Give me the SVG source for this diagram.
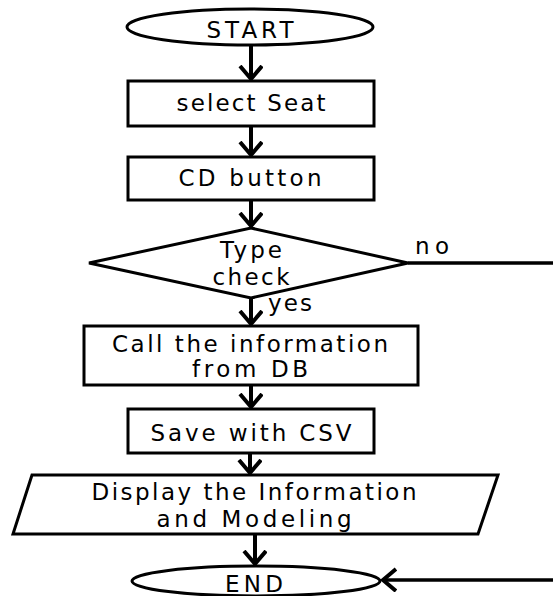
<svg xmlns="http://www.w3.org/2000/svg" width="553" height="596" viewBox="0 0 553 596">
  <style>
    .shape { fill: #ffffff; stroke: #000000; stroke-width: 3; }
    .label { font-family: "DejaVu Sans", "Noto Sans", sans-serif; font-size: 23px; fill: #000000; text-anchor: middle; }
    .tag { font-family: "DejaVu Sans", "Noto Sans", sans-serif; font-size: 23px; fill: #000000; }
    .flow { fill: none; stroke: #000000; stroke-width: 4; }
    .line { fill: none; stroke: #000000; stroke-width: 3.5; }
  </style>
  <defs>
    <marker id="arrow" markerUnits="userSpaceOnUse" markerWidth="30" markerHeight="30" refX="14" refY="12" orient="auto">
      <path d="M1,1 L14,12 L1,23" fill="none" stroke="#000000" stroke-width="4"/>
    </marker>
  </defs>

  <rect width="553" height="596" fill="#ffffff"/>

  <g id="connectors">
    <path class="flow" d="M251,45 V79" marker-end="url(#arrow)"/>
    <path class="flow" d="M251,126 V155" marker-end="url(#arrow)"/>
    <path class="flow" d="M251,200 V226" marker-end="url(#arrow)"/>
    <path class="flow" d="M251,298 V324" marker-end="url(#arrow)"/>
    <path class="flow" d="M251,385 V407" marker-end="url(#arrow)"/>
    <path class="flow" d="M250,453 V473" marker-end="url(#arrow)"/>
    <path class="flow" d="M255,534 V564" marker-end="url(#arrow)"/>
    <path class="line" d="M408,263 H553"/>
    <path class="line" d="M553,580 H383" marker-end="url(#arrow)"/>
    <text class="tag" x="415" y="254" textLength="34" lengthAdjust="spacing">no</text>
    <text class="tag" x="268" y="311" textLength="44" lengthAdjust="spacing">yes</text>
  </g>

  <g id="start">
    <ellipse class="shape" cx="250" cy="27" rx="123" ry="18"/>
    <text class="label" x="250" y="38" textLength="87" lengthAdjust="spacing">START</text>
  </g>

  <g id="select-seat">
    <rect class="shape" x="128" y="81" width="246" height="45"/>
    <text class="label" x="251" y="111" textLength="149" lengthAdjust="spacing">select Seat</text>
  </g>

  <g id="cd-button">
    <rect class="shape" x="128" y="157" width="246" height="43"/>
    <text class="label" x="250" y="186" textLength="143" lengthAdjust="spacing">CD button</text>
  </g>

  <g id="type-check">
    <polygon class="shape" points="251,228 408,263 251,298 89,263"/>
    <text class="label" x="251" y="258" textLength="62" lengthAdjust="spacing">Type</text>
    <text class="label" x="251" y="285" textLength="77" lengthAdjust="spacing">check</text>
  </g>

  <g id="call-info">
    <rect class="shape" x="84" y="326" width="334" height="59"/>
    <text class="label" x="250" y="352" textLength="276" lengthAdjust="spacing">Call the information</text>
    <text class="label" x="250" y="377" textLength="116" lengthAdjust="spacing">from DB</text>
  </g>

  <g id="save-csv">
    <rect class="shape" x="128" y="409" width="246" height="44"/>
    <text class="label" x="251" y="441" textLength="201" lengthAdjust="spacing">Save with CSV</text>
  </g>

  <g id="display">
    <polygon class="shape" points="32,475 498,475 478,534 13,534"/>
    <text class="label" x="254" y="500" textLength="325" lengthAdjust="spacing">Display the Information</text>
    <text class="label" x="254" y="527" textLength="195" lengthAdjust="spacing">and Modeling</text>
  </g>

  <g id="end">
    <ellipse class="shape" cx="256" cy="581" rx="124" ry="15"/>
    <text class="label" x="254" y="592" textLength="58" lengthAdjust="spacing">END</text>
  </g>
</svg>
